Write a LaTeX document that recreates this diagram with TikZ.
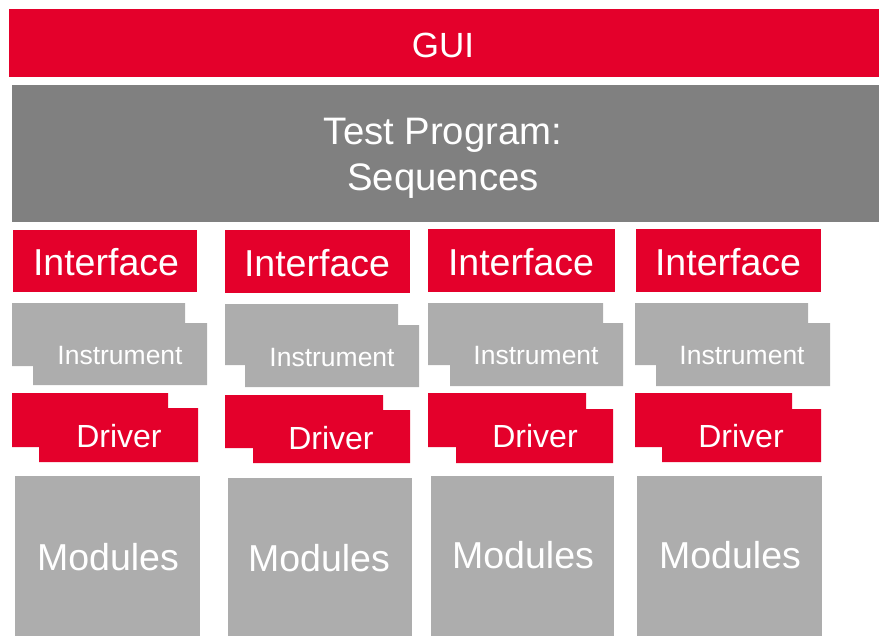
\documentclass[tikz,border=0pt]{standalone}
\usepackage{fontspec}
\setmainfont{Liberation Sans}
\definecolor{brandred}{HTML}{E4002B}
\definecolor{darkgray}{HTML}{808080}
\definecolor{lightgray}{HTML}{ADADAD}
\tikzset{
  redfill/.style={fill=brandred},
  grayfill/.style={fill=lightgray},
  lbl/.style={text=white, inner sep=0pt, anchor=center},
  big/.style={lbl, font=\fontsize{37.5}{42}\selectfont},
  mid/.style={lbl, font=\fontsize{32}{36}\selectfont},
  small/.style={lbl, font=\fontsize{26.5}{30}\selectfont},
}
\begin{document}
\begin{tikzpicture}[x=1pt,y=-1pt]
\useasboundingbox (0,0) rectangle (882,635);
% GUI
\fill[redfill] (9,9) rectangle (879,77);
\node[big, font=\fontsize{35}{40}\selectfont] (gui) at (443,45) {GUI};
% Test program
\fill[darkgray] (12,85) rectangle (879,222);
\node[big, align=center, font=\fontsize{38.3}{46}\selectfont] (tp) at (443,158) {Test Program:\\Sequences};
% ---- Column 1
\fill[redfill] (13,230) rectangle (197,292);
\node[big] (if1) at (106,262) {Interface};
\fill[grayfill] (12,303) rectangle (185,366) (33,323) rectangle (207,385);
\node[small] (in1) at (120,356) {Instrument};
\fill[redfill] (12,393) rectangle (168,447) (39,408) rectangle (198,462);
\node[mid] (dr1) at (119,436) {Driver};
\fill[grayfill] (15,476) rectangle (200,640);
\node[big] (mo1) at (108,557) {Modules};
% ---- Column 2
\fill[redfill] (225,230) rectangle (410,293);
\node[big] (if2) at (317,263) {Interface};
\fill[grayfill] (225,304) rectangle (398,365) (245,325) rectangle (419,387);
\node[small] (in2) at (332,358) {Instrument};
\fill[redfill] (225,395) rectangle (383,448) (253,410) rectangle (410,463);
\node[mid] (dr2) at (331,438) {Driver};
\fill[grayfill] (228,478) rectangle (412,640);
\node[big] (mo2) at (319,558) {Modules};
% ---- Column 3
\fill[redfill] (428,229) rectangle (615,292);
\node[big] (if3) at (521,262) {Interface};
\fill[grayfill] (428,303) rectangle (603,365) (450,323) rectangle (623,386);
\node[small] (in3) at (536,356) {Instrument};
\fill[redfill] (428,393) rectangle (586,447) (456,409) rectangle (613,463);
\node[mid] (dr3) at (535,436) {Driver};
\fill[grayfill] (431,476) rectangle (614,640);
\node[big] (mo3) at (523,555) {Modules};
% ---- Column 4
\fill[redfill] (636,229) rectangle (821,292);
\node[big] (if4) at (728,262) {Interface};
\fill[grayfill] (635,303) rectangle (808,365) (656,323) rectangle (830,386);
\node[small] (in4) at (742,356) {Instrument};
\fill[redfill] (635,393) rectangle (792,447) (662,409) rectangle (821,462);
\node[mid] (dr4) at (741,436) {Driver};
\fill[grayfill] (637,476) rectangle (822,640);
\node[big] (mo4) at (730,555) {Modules};
\end{tikzpicture}
\end{document}
